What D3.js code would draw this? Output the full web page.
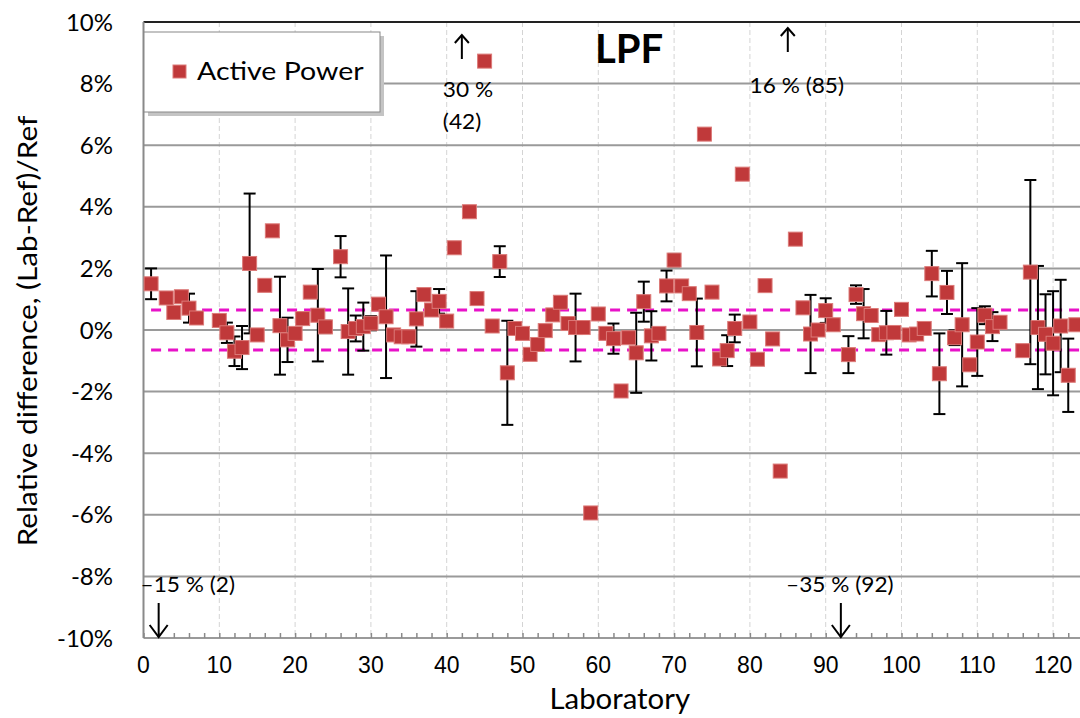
<!DOCTYPE html>
<html>
<head>
<meta charset="utf-8">
<script src="https://cdn.jsdelivr.net/npm/d3@7"></script>
<style>
  body { margin: 0; background: #fff; }
  svg { display: block; }
  .xtick { font-family: "Liberation Sans", Arial, sans-serif; font-size: 23px; fill: #000; }
  .ytick { font-family: Lato, "Open Sans", sans-serif; font-size: 24px; fill: #000; }
  .axis-title { font-family: Lato, "Open Sans", sans-serif; font-size: 28px; fill: #000; }
  .note { font-family: Lato, "Open Sans", sans-serif; font-size: 21px; fill: #000; }
</style>
</head>
<body>
<svg id="chart"></svg>
<script>
// laboratory numbers, relative difference (%) and expanded uncertainty (%)
const labs = [1, 3, 4, 5, 6, 7, 10, 11, 12, 13, 14, 15, 16, 17, 18, 19, 20, 21, 22, 23, 24,
  26, 27, 28, 29, 30, 31, 32, 33, 34, 35, 36, 37, 38, 39, 40, 41, 43, 44, 45, 46, 47, 48, 49,
  50, 51, 52, 53, 54, 55, 56, 57, 58, 59, 60, 61, 62, 63, 64, 65, 66, 67, 68, 69, 70, 71, 72,
  73, 74, 75, 76, 77, 78, 79, 80, 81, 82, 83, 84, 86, 87, 88, 89, 90, 91, 93, 94, 95, 96, 97,
  98, 99, 100, 101, 102, 103, 104, 105, 106, 107, 108, 109, 110, 111, 112, 113, 116, 117, 118,
  119, 120, 121, 122, 123];
const values = [1.50, 1.04, 0.57, 1.08, 0.71, 0.39, 0.31, -0.09, -0.69, -0.57, 2.16, -0.16, 1.45,
  3.22, 0.14, -0.32, -0.11, 0.37, 1.23, 0.48, 0.10,
  2.38, -0.05, 0.05, 0.11, 0.22, 0.84, 0.43, -0.16, -0.22, -0.22, 0.36, 1.15, 0.65, 0.93, 0.29,
  2.67, 3.84, 1.02, 8.73, 0.13, 2.22, -1.39, 0.05,
  -0.11, -0.79, -0.47, -0.02, 0.49, 0.90, 0.21, 0.08, 0.08, -5.94, 0.52, -0.11, -0.28, -1.98,
  -0.25, -0.74, 0.92, -0.19, -0.11, 1.43, 2.27, 1.43, 1.18,
  -0.08, 6.36, 1.23, -0.94, -0.67, 0.05, 5.06, 0.26, -0.95, 1.44, -0.29, -4.58, 2.95, 0.72,
  -0.13, 0.00, 0.63, 0.17, -0.80, 1.15, 0.53, 0.47, -0.15,
  -0.09, -0.08, 0.67, -0.16, -0.13, 0.05, 1.83, -1.42, 1.22, -0.25, 0.17, -1.13, -0.39, 0.48,
  0.11, 0.25, -0.67, 1.88, 0.08,
  -0.14, -0.43, 0.13, -1.47, 0.17];
const errors = [0.50, null, null, null, 0.47, null, null, 0.33, 0.48, 0.70, 2.27, null, null,
  null, 1.59, 0.72, null, null, null, 1.50, 0.20,
  0.67, 1.40, 0.42, 0.78, 0.23, null, 1.99, null, null, null, 0.90, null, null, 0.40, null,
  null, null, null, null, null, 0.50, 1.69, null,
  null, null, null, null, null, null, null, 1.10, null, null, null, null, 0.49, null,
  null, 1.30, 0.65, 0.80, null, 0.50, 0.20, null, null,
  1.10, null, null, null, 0.50, 0.45, null, null, null, null, null, null, null, null,
  1.27, null, 0.40, null, 0.60, 0.30, 0.80, null, null,
  0.71, null, null, null, null, null, 0.74, 1.31, 0.70, 0.24, 2.00, null, 1.10, 0.29,
  0.47, null, null, 2.99, 2.00,
  1.30, 1.69, 1.50, 1.19, null];

// off-scale results
const offLabs = [42, 85, 2, 92];
const offText = [["30 %", "(42)"], ["16 % (85)"], ["\u201315 % (2)"], ["\u201335 % (92)"]];
const offUp = [true, true, false, false];

const limit = 0.65;
const yTicks = [-10, -8, -6, -4, -2, 0, 2, 4, 6, 8, 10];
const xTicks = [0, 10, 20, 30, 40, 50, 60, 70, 80, 90, 100, 110, 120];

const width = 1080, height = 718;
const margin = { top: 22, right: 0, bottom: 80, left: 143.5 };

const svg = d3.select("#chart").attr("width", width).attr("height", height);

const x = d3.scaleLinear().domain([0, 123.55]).range([margin.left, width - margin.right]);
const y = d3.scaleLinear().domain([-10, 10]).range([height - margin.bottom, margin.top]);

const data = labs.map((l, i) => ({ lab: l, v: values[i], e: errors[i] }));

// vertical dashed grid
svg.append("g")
  .selectAll("line")
  .data(xTicks.slice(1))
  .join("line")
  .attr("x1", (d) => x(d)).attr("x2", (d) => x(d))
  .attr("y1", y(10)).attr("y2", y(-10))
  .attr("stroke", "#d4d4d4")
  .attr("stroke-dasharray", "5,3");

// horizontal grid
svg.append("g")
  .selectAll("line")
  .data(yTicks)
  .join("line")
  .attr("x1", x(0)).attr("x2", width)
  .attr("y1", (d) => y(d)).attr("y2", (d) => y(d))
  .attr("stroke", (d) => (d === 10 ? "#222" : "#9a9a9a"))
  .attr("stroke-width", 2);

// left axis line
svg.append("line")
  .attr("x1", x(0)).attr("x2", x(0))
  .attr("y1", y(10)).attr("y2", y(-10))
  .attr("stroke", "#8a8a8a").attr("stroke-width", 2);

// x axis minor ticks (inside)
svg.append("g")
  .attr("transform", `translate(0,${y(-10)})`)
  .call(d3.axisBottom(x).tickValues(d3.range(0, 124, 2)).tickSize(-5).tickFormat(""))
  .call((g) => g.select(".domain").remove())
  .call((g) => g.selectAll("line").attr("stroke", "#8a8a8a").attr("stroke-width", 1.5));

// tick labels
svg.append("g")
  .selectAll("text")
  .data(xTicks)
  .join("text")
  .attr("class", "xtick")
  .attr("x", (d) => x(d))
  .attr("y", y(-10) + 35)
  .attr("text-anchor", "middle")
  .text((d) => d);

svg.append("g")
  .selectAll("text")
  .data(yTicks)
  .join("text")
  .attr("class", "ytick")
  .attr("x", 113)
  .attr("y", (d) => y(d) + 8.5)
  .attr("text-anchor", "end")
  .text((d) => d + "%");

// limit lines
svg.append("g")
  .selectAll("line")
  .data([limit, -limit])
  .join("line")
  .attr("x1", x(1)).attr("x2", width)
  .attr("y1", (d) => y(d)).attr("y2", (d) => y(d))
  .attr("stroke", "#e812c8")
  .attr("stroke-width", 3)
  .attr("stroke-dasharray", "10,7");

// error bars
const eb = svg.append("g").attr("stroke", "#000").attr("stroke-width", 2);
const withErr = data.filter((d) => d.e !== null);
eb.selectAll(".stem")
  .data(withErr)
  .join("line")
  .attr("x1", (d) => x(d.lab)).attr("x2", (d) => x(d.lab))
  .attr("y1", (d) => y(d.v + d.e)).attr("y2", (d) => y(d.v - d.e));
eb.selectAll(".cap")
  .data(withErr.flatMap((d) => [d.v + d.e, d.v - d.e].map((c) => ({ lab: d.lab, c }))))
  .join("line")
  .attr("x1", (d) => x(d.lab) - 6).attr("x2", (d) => x(d.lab) + 6)
  .attr("y1", (d) => y(d.c)).attr("y2", (d) => y(d.c));

// markers
svg.append("g")
  .selectAll("rect")
  .data(data)
  .join("rect")
  .attr("x", (d) => x(d.lab) - 7)
  .attr("y", (d) => y(d.v) - 7)
  .attr("width", 14).attr("height", 14)
  .attr("fill", "#c0393a")
  .attr("stroke", "#dc7a78")
  .attr("stroke-width", 1);

// off-scale annotations
function arrow(g, ax, y0, y1, hw, hh) {
  const dir = y1 > y0 ? 1 : -1;
  g.append("line").attr("x1", ax).attr("x2", ax).attr("y1", y0).attr("y2", y1)
    .attr("stroke", "#000").attr("stroke-width", 2);
  g.append("path").attr("d", `M${ax - hw},${y1 - dir * hh}L${ax},${y1}L${ax + hw},${y1 - dir * hh}`)
    .attr("fill", "none").attr("stroke", "#000").attr("stroke-width", 2);
}

function note(g, tx, ty, anchor, t) {
  g.append("text").attr("class", "note")
    .attr("transform", `translate(${tx},${ty}) scale(1.08,1)`)
    .attr("text-anchor", anchor).text(t);
}

offLabs.forEach((lab, i) => {
  const ax = x(lab);
  const g = svg.append("g");
  if (offUp[i]) {
    const top = i === 0 ? 35 : 28;
    arrow(g, ax, top + 24, top, 7, 8);
    offText[i].forEach((t, j) => {
      if (i === 0) note(g, ax - 19, 97 + j * 32, "start", t);
      else note(g, ax + 9, 93, "middle", t);
    });
  } else {
    arrow(g, ax, 603, y(-10) - 1, 9, 12);
    if (i === 2) note(g, x(0) - 3, 592, "start", offText[i][0]);
    else note(g, ax - 1, 592, "middle", offText[i][0]);
  }
});

// title
svg.append("text")
  .attr("x", 629).attr("y", 63)
  .attr("text-anchor", "middle")
  .style("font-family", "Lato, sans-serif")
  .style("font-weight", "bold")
  .style("font-size", "40px")
  .text("LPF");

// legend
const leg = svg.append("g").attr("transform", "translate(144,32)");
leg.append("rect").attr("x", 4).attr("y", 4).attr("width", 236).attr("height", 80).attr("fill", "#c4c4c4");
leg.append("rect").attr("width", 236).attr("height", 80).attr("fill", "#fff")
  .attr("stroke", "#888").attr("stroke-width", 1);
leg.append("rect").attr("x", 29).attr("y", 33).attr("width", 13).attr("height", 13)
  .attr("fill", "#c0393a").attr("stroke", "#dc7a78");
leg.append("text")
  .attr("transform", "translate(53,48) scale(1.14,1)")
  .style("font-family", "Lato, sans-serif").style("font-size", "25px").text("Active Power");

// axis titles
svg.append("text")
  .attr("class", "axis-title")
  .attr("transform", `translate(${(x(0) + width) / 2 + 8},709) scale(1.05,1)`)
  .attr("text-anchor", "middle")
  .text("Laboratory");

svg.append("text")
  .attr("class", "axis-title")
  .style("font-size", "27px")
  .attr("transform", `translate(37,${y(0) + 1}) rotate(-90) scale(1.1,1)`)
  .attr("text-anchor", "middle")
  .text("Relative difference, (Lab-Ref)/Ref");
</script>
</body>
</html>
